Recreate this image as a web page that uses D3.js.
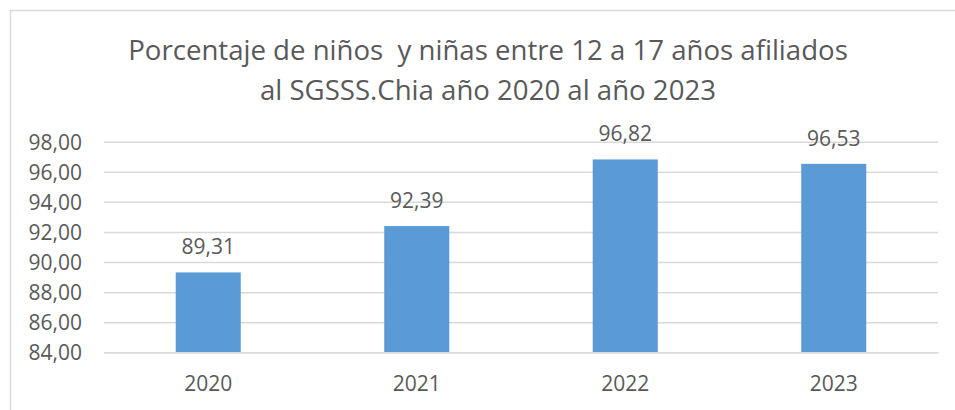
<!DOCTYPE html>
<html>
<head>
<meta charset="utf-8">
<script src="https://cdn.jsdelivr.net/npm/d3@7"></script>
<style>
	body { margin:0; background:#fff; }
	text { font-family: "Open Sans", "Noto Sans", sans-serif; fill:#595959; }
</style>
</head>
<body>
<div id="chart"></div>
<script>

// data

var years = ["2020", "2021", "2022", "2023"];
var values = [89.31, 92.39, 96.82, 96.53];
var yticks = [84, 86, 88, 90, 92, 94, 96, 98];
var titlelines = ["Porcentaje de niños  y niñas entre 12 a 17 años afiliados",
	"al SGSSS.Chia año 2020 al año 2023"];

var width = 955,
	height = 410,
	plot = {left:104, right:938, top:141.7, bottom:352.3},
	barcolor = "#5b9bd5",
	gridcolor = "#d9d9d9";

var fmt = function(v){ return d3.format(".2f")(v).replace(".", ","); };

var svg = d3.select("#chart").append("svg")
	.attr("width", width)
	.attr("height", height);

// chart frame (only top and left edges are visible)
svg.append("rect")
	.attr("x", 10.5).attr("y", 10.5)
	.attr("width", width + 20).attr("height", height + 20)
	.attr("fill", "none")
	.attr("stroke", gridcolor)
	.attr("stroke-width", 1.5);

var X = d3.scaleBand().domain(years).range([plot.left, plot.right])
	.paddingInner(0.688).paddingOuter(0.344);
var Y = d3.scaleLinear().domain([84, 98]).range([plot.bottom, plot.top]);

// title, scaled to the width it has in the picture
var title = svg.append("g");
title.selectAll("text").data(titlelines).enter().append("text")
	.attr("x", 488)
	.attr("y", function(d,i){ return 60 + i*40; })
	.attr("text-anchor", "middle")
	.style("font-size", "24px")
	.style("white-space", "pre")
	.text(function(d){ return d; });

var w0 = title.select("text").node().getComputedTextLength();
title.selectAll("text").style("font-size", (24 * 720 / w0) + "px");

// gridlines and y labels
var yaxis = d3.axisLeft(Y).tickValues(yticks).tickSize(-(plot.right - plot.left)).tickFormat(fmt).tickPadding(22);
var gy = svg.append("g").attr("transform", "translate(" + plot.left + ",0)").call(yaxis);
gy.select(".domain").remove();
gy.selectAll(".tick line").attr("stroke", gridcolor).attr("stroke-width", 1.5);
gy.selectAll(".tick text").style("font-size", "21px").attr("fill", "#595959").attr("dy", "0.36em");

// bars
svg.selectAll(".bar").data(values).enter().append("rect")
	.attr("class", "bar")
	.attr("x", function(d,i){ return X(years[i]); })
	.attr("y", function(d){ return Y(d); })
	.attr("width", X.bandwidth())
	.attr("height", function(d){ return Y(84) - Y(d); })
	.attr("fill", barcolor);

// value labels
svg.selectAll(".lbl").data(values).enter().append("text")
	.attr("class", "lbl")
	.attr("x", function(d,i){ return X(years[i]) + X.bandwidth()/2; })
	.attr("y", function(d){ return Y(d) - 18; })
	.attr("text-anchor", "middle")
	.style("font-size", "21px")
	.text(fmt);

// x labels
var xaxis = d3.axisBottom(X).tickSize(0).tickPadding(24);
var gx = svg.append("g").attr("transform", "translate(0," + plot.bottom + ")").call(xaxis);
gx.select(".domain").attr("stroke", gridcolor).attr("stroke-width", 1.5);
gx.selectAll(".tick text").style("font-size", "21px").attr("fill", "#595959");

</script>
</body>
</html>
